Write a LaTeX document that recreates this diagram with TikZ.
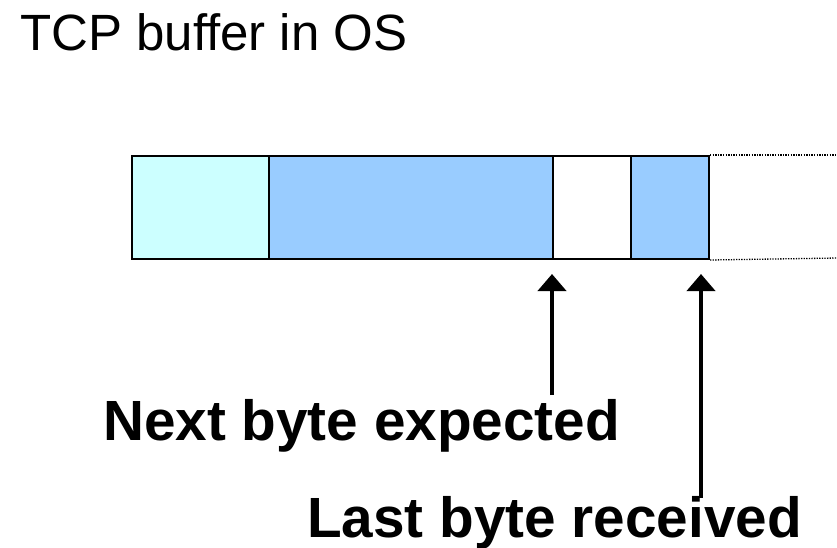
\documentclass[tikz,border=0pt]{standalone}
\usepackage{fontspec}
\setmainfont{Liberation Sans}
\usetikzlibrary{arrows.meta}
\definecolor{consumed}{HTML}{CCFFFF}
\definecolor{stored}{HTML}{99CCFF}
\begin{document}
\begin{tikzpicture}[x=1pt,y=-1pt,
  cell/.style={draw=black,line width=2pt,anchor=north west,inner sep=0pt,
    minimum height=103pt},
  label/.style={anchor=base west,inner sep=0pt,font=\bfseries\fontsize{56.7}{60}\selectfont},
  pointer/.style={line width=4pt,-{Triangle[width=28pt,length=17pt]}},
  open/.style={line width=1.3pt,dash pattern=on 1.3pt off 1.3pt}]
\useasboundingbox (0,0) rectangle (837,547);
% title
\node[anchor=base west,inner sep=0pt,font=\fontsize{51}{55}\selectfont] (title) at (20,50) {TCP buffer in OS};
% buffer cells
\node[cell,fill=consumed,minimum width=137pt] (c1) at (131,155) {};
\node[cell,fill=stored,minimum width=284pt] (c2) at (268,155) {};
\node[cell,fill=white,minimum width=78pt] (c3) at (552,155) {};
\node[cell,fill=stored,minimum width=78pt] (c4) at (630,155) {};
% unbounded remainder of the buffer
\coordinate (endtop) at (837,155);
\coordinate (endbot) at (837,258);
\draw[open] (c4.north east) -- (endtop);
\draw[open] (c4.south east) -- (endbot);
% pointers
\node[label] (next) at (103,440) {Next byte expected};
\node[label] (last) at (307,537) {Last byte received};
\coordinate (nexttip) at (552,274);
\coordinate (lasttip) at (701,274);
\coordinate (nextfoot) at (552,395);
\coordinate (lastfoot) at (701,498);
\draw[pointer] (nextfoot) -- (nexttip);
\draw[pointer] (lastfoot) -- (lasttip);
\end{tikzpicture}
\end{document}
